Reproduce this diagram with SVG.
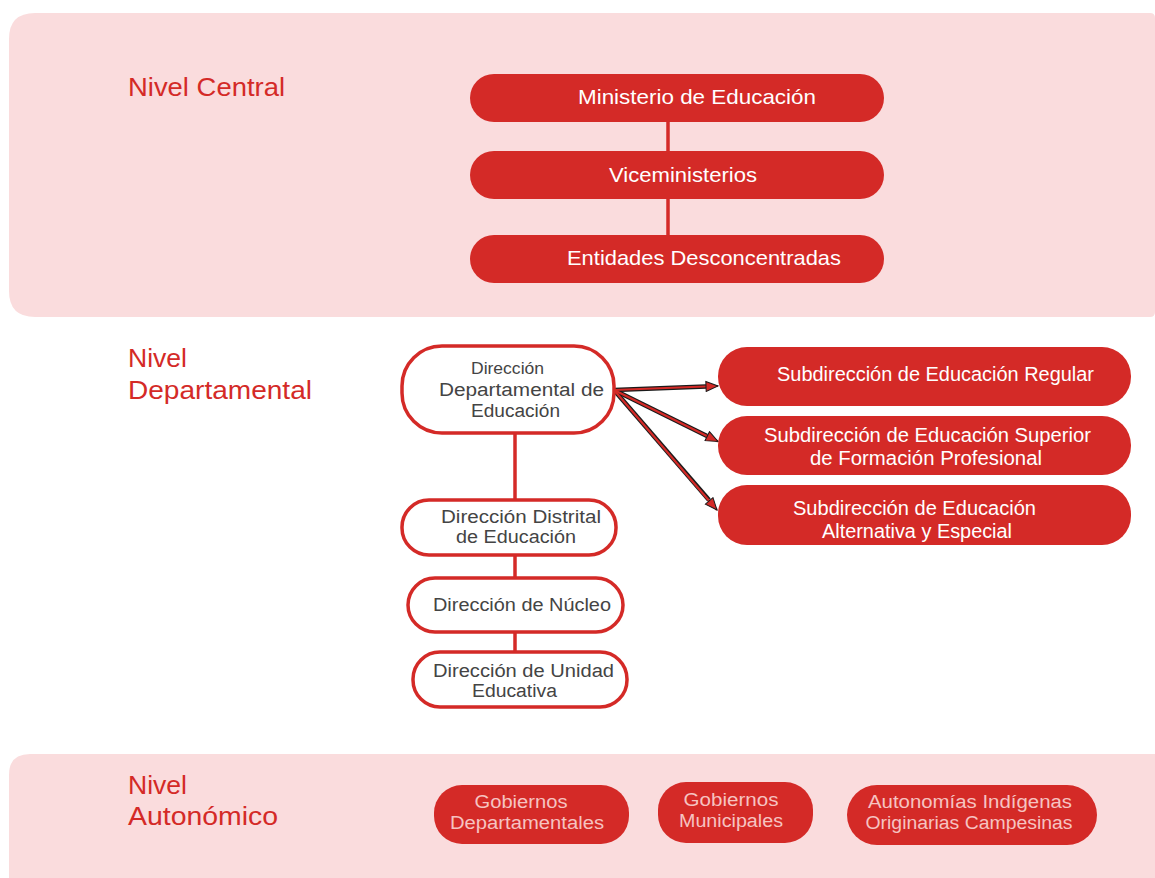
<svg xmlns="http://www.w3.org/2000/svg" width="1155" height="878" viewBox="0 0 1155 878">
<style>
text{font-family:"Liberation Sans",Arial,sans-serif}
.panel{fill:#FADCDD}
.lvl{font-size:26px;fill:#D42A27}
.fill{fill:#D42A27}
.out{fill:#FFFFFF;stroke:#D42A27;stroke-width:3.5}
.wt{font-size:21px;fill:#FFFFFF;text-anchor:middle}
.st{font-size:19.5px;fill:#FFFFFF;text-anchor:middle}
.gt{font-size:18px;fill:#444444;text-anchor:middle}
.pt{font-size:18px;fill:#F6C3C1;text-anchor:middle}
.vline{stroke:#D42A27;stroke-width:3.5;fill:none}
.arrO{stroke:#1a1a1a;stroke-width:4.5;fill:none}
.arrI{stroke:#D42A27;stroke-width:2.2;fill:none}
</style>
<defs>
<marker id="ah" markerWidth="14" markerHeight="12" refX="13" refY="6" orient="auto" markerUnits="userSpaceOnUse">
<path d="M1,1 L13,6 L1,11 Z" fill="#D42A27" stroke="#1a1a1a" stroke-width="1"/>
</marker>
</defs>
<rect x="0" y="0" width="1155" height="878" fill="#FFFFFF"/>
<g id="panel-central">
<path class="panel" d="M35,13 H1150 Q1155,13 1155,18 V312 Q1155,317 1150,317 H35 Q9,317 9,291 V39 Q9,13 35,13 Z"/>
<text class="lvl" x="128" y="95.5" textLength="157" lengthAdjust="spacingAndGlyphs">Nivel Central</text>
</g>
<g id="panel-autonomico">
<path class="panel" d="M30,754 H1155 V878 H9 V775 Q9,754 30,754 Z"/>
<text class="lvl" x="128" y="794" textLength="59" lengthAdjust="spacingAndGlyphs">Nivel</text>
<text class="lvl" x="128" y="824.5" textLength="150" lengthAdjust="spacingAndGlyphs">Autonómico</text>
</g>
<g id="label-departamental">
<text class="lvl" x="128" y="367" textLength="59" lengthAdjust="spacingAndGlyphs">Nivel</text>
<text class="lvl" x="128" y="398.5" textLength="184" lengthAdjust="spacingAndGlyphs">Departamental</text>
</g>
<g id="connectors">
<line class="vline" x1="668" y1="122" x2="668" y2="151"/>
<line class="vline" x1="668" y1="199" x2="668" y2="235"/>
<line class="vline" x1="515" y1="433" x2="515" y2="500"/>
<line class="vline" x1="515" y1="555" x2="515" y2="578"/>
<line class="vline" x1="515" y1="632" x2="515" y2="654"/>
<line class="arrO" x1="614" y1="390" x2="706" y2="386.5"/>
<line class="arrO" x1="614" y1="390" x2="707" y2="436"/>
<line class="arrO" x1="614" y1="390" x2="709" y2="500"/>
<line class="arrI" x1="614" y1="390" x2="718" y2="386" marker-end="url(#ah)"/>
<line class="arrI" x1="614" y1="390" x2="718" y2="441.5" marker-end="url(#ah)"/>
<line class="arrI" x1="614" y1="390" x2="717" y2="510" marker-end="url(#ah)"/>
</g>
<g id="n-ministerio">
<rect class="fill" x="470" y="74" width="414" height="48" rx="24"/>
<text class="wt" x="697" y="104" textLength="238" lengthAdjust="spacingAndGlyphs">Ministerio de Educación</text>
</g>
<g id="n-viceministerios">
<rect class="fill" x="470" y="151" width="414" height="48" rx="24"/>
<text class="wt" x="683" y="182" textLength="148" lengthAdjust="spacingAndGlyphs">Viceministerios</text>
</g>
<g id="n-entidades">
<rect class="fill" x="470" y="235" width="414" height="48" rx="24"/>
<text class="wt" x="704" y="265" textLength="274" lengthAdjust="spacingAndGlyphs">Entidades Desconcentradas</text>
</g>
<g id="n-dir-departamental">
<rect class="out" x="402" y="346" width="212" height="87" rx="40"/>
<text class="gt" x="507.5" y="374" style="font-size:16px" textLength="73" lengthAdjust="spacingAndGlyphs">Dirección</text>
<text class="gt" x="521.5" y="396" textLength="165" lengthAdjust="spacingAndGlyphs">Departamental de</text>
<text class="gt" x="515.5" y="416.5" textLength="89" lengthAdjust="spacingAndGlyphs">Educación</text>
</g>
<g id="n-dir-distrital">
<rect class="out" x="402" y="500" width="214" height="55" rx="27"/>
<text class="gt" x="521" y="522.5" style="font-size:17.5px" textLength="160" lengthAdjust="spacingAndGlyphs">Dirección Distrital</text>
<text class="gt" x="516" y="542.5" style="font-size:17.5px" textLength="120" lengthAdjust="spacingAndGlyphs">de Educación</text>
</g>
<g id="n-dir-nucleo">
<rect class="out" x="408" y="578" width="215" height="54" rx="27"/>
<text class="gt" x="522" y="610.5" textLength="178" lengthAdjust="spacingAndGlyphs">Dirección de Núcleo</text>
</g>
<g id="n-dir-unidad">
<rect class="out" x="413" y="652" width="214" height="55" rx="27"/>
<text class="gt" x="523.5" y="676.5" textLength="181" lengthAdjust="spacingAndGlyphs">Dirección de Unidad</text>
<text class="gt" x="514.5" y="697" textLength="85" lengthAdjust="spacingAndGlyphs">Educativa</text>
</g>
<g id="n-sub-regular">
<rect class="fill" x="718" y="347" width="413" height="59" rx="29"/>
<text class="st" x="935.5" y="381" textLength="317" lengthAdjust="spacingAndGlyphs">Subdirección de Educación Regular</text>
</g>
<g id="n-sub-superior">
<rect class="fill" x="718" y="416" width="413" height="59" rx="29"/>
<text class="st" x="927.5" y="441.5" textLength="327" lengthAdjust="spacingAndGlyphs">Subdirección de Educación Superior</text>
<text class="st" x="926" y="464.5" textLength="232" lengthAdjust="spacingAndGlyphs">de Formación Profesional</text>
</g>
<g id="n-sub-alternativa">
<rect class="fill" x="718" y="485" width="413" height="60" rx="29"/>
<text class="st" x="914.5" y="515" textLength="243" lengthAdjust="spacingAndGlyphs">Subdirección de Educación</text>
<text class="st" x="917" y="538" textLength="190" lengthAdjust="spacingAndGlyphs">Alternativa y Especial</text>
</g>
<g id="n-gob-departamentales">
<rect class="fill" x="434" y="785" width="195" height="59" rx="28"/>
<text class="pt" x="521" y="808" textLength="93" lengthAdjust="spacingAndGlyphs">Gobiernos</text>
<text class="pt" x="527" y="829" textLength="154" lengthAdjust="spacingAndGlyphs">Departamentales</text>
</g>
<g id="n-gob-municipales">
<rect class="fill" x="658" y="782" width="155" height="61" rx="28"/>
<text class="pt" x="731" y="806" textLength="95" lengthAdjust="spacingAndGlyphs">Gobiernos</text>
<text class="pt" x="731" y="827" textLength="104" lengthAdjust="spacingAndGlyphs">Municipales</text>
</g>
<g id="n-autonomias">
<rect class="fill" x="847" y="785" width="250" height="60" rx="30"/>
<text class="pt" x="970" y="808" textLength="204" lengthAdjust="spacingAndGlyphs">Autonomías Indígenas</text>
<text class="pt" x="969" y="829" textLength="207" lengthAdjust="spacingAndGlyphs">Originarias Campesinas</text>
</g>
</svg>
